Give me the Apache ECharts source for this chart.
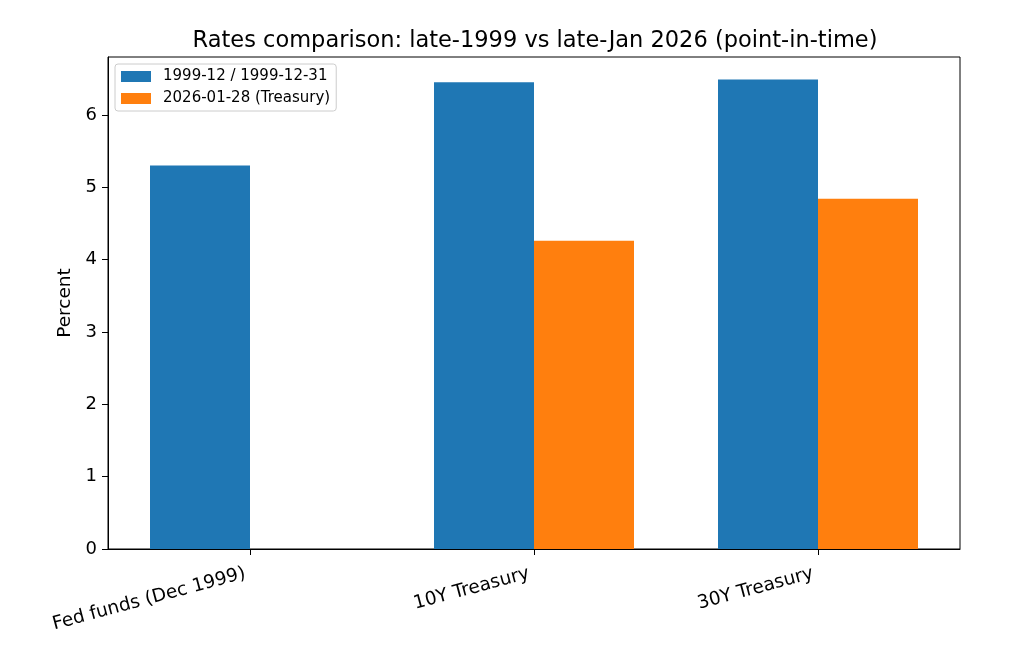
<!DOCTYPE html>
<html>
<head>
<meta charset="utf-8">
<script src="https://cdn.jsdelivr.net/npm/echarts@6/dist/echarts.min.js"></script>
<style>html,body{margin:0;padding:0;background:#fff}#c{width:1024px;height:656px}</style>
</head>
<body>
<div id="c"></div>
<script>
const categories = ['Fed funds (Dec 1999)', '10Y Treasury', '30Y Treasury'];
const series1999 = [5.30, 6.45, 6.49];
const series2026 = [null, 4.26, 4.84];
const seriesNames = ['1999-12 / 1999-12-31', '2026-01-28 (Treasury)'];
const yTicks = [0, 1, 2, 3, 4, 5, 6];

const font = 'DejaVu Sans';
const chart = echarts.init(document.getElementById('c'), null, {renderer: 'canvas'});
chart.setOption({
  animation: false,
  textStyle: {fontFamily: font},
  title: {
    text: 'Rates comparison: late-1999 vs late-Jan 2026 (point-in-time)',
    left: 530, top: 25, textAlign: 'center',
    textStyle: {fontFamily: font, fontSize: 22.5, fontWeight: 'normal', color: '#000'}
  },
  legend: {
    orient: 'vertical', left: 115, top: 64,
    icon: 'rect',
    itemWidth: 30, itemHeight: 11, itemGap: 7,
    borderColor: '#cccccc', borderWidth: 1, borderRadius: 3,
    padding: [5, 6, 5, 6],
    textStyle: {fontFamily: font, fontSize: 15, color: '#000', padding: [0, 0, 0, 7]},
    data: seriesNames
  },
  grid: {left: 108, right: 64, top: 57, bottom: 107, show: true, borderColor: '#000', borderWidth: 1, containLabel: false},
  xAxis: {
    type: 'category', data: categories,
    axisLine: {lineStyle: {color: '#000', width: 1}},
    axisTick: {show: true, interval: 0, alignWithLabel: true, length: 6, lineStyle: {color: '#000', width: 1}},
    axisLabel: {interval: 0, rotate: 15, fontSize: 18.5, color: '#000', fontFamily: font, margin: 23, padding: [0, 5, 0, 0]}
  },
  yAxis: {
    type: 'value', min: 0, max: 6.8,
    name: 'Percent', nameLocation: 'middle', nameGap: 30,
    nameTextStyle: {fontSize: 18.5, color: '#000', fontFamily: font},
    axisLine: {show: true, lineStyle: {color: '#000', width: 1}},
    axisTick: {show: true, length: 6, lineStyle: {color: '#000'}, customValues: yTicks},
    splitLine: {show: false},
    axisLabel: {fontSize: 18, color: '#000', fontFamily: font, margin: 11, customValues: yTicks}
  },
  series: [
    {name: seriesNames[0], type: 'bar', data: series1999, barWidth: 100, barGap: '0%', itemStyle: {color: '#1f77b4'}},
    {name: seriesNames[1], type: 'bar', data: series2026, barWidth: 100, barGap: '0%', itemStyle: {color: '#ff7f0e'}}
  ]
});
</script>
</body>
</html>
